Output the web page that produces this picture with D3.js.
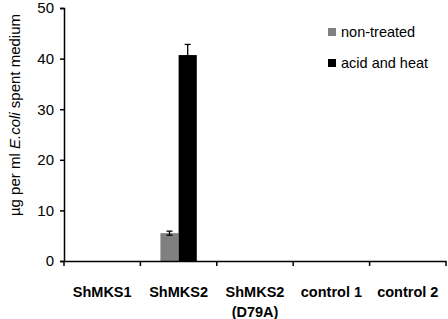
<!DOCTYPE html>
<html><head><meta charset="utf-8">
<script src="https://cdn.jsdelivr.net/npm/d3@7"></script>
<style>body{margin:0;background:#fff;}svg{display:block;}</style>
</head><body>
<svg id="c" width="448" height="319"></svg>
<script>
const categories = ["ShMKS1", "ShMKS2", "ShMKS2\n(D79A)", "control 1", "control 2"];
const nonTreated = [0, 5.5, 0, 0, 0];
const nonTreatedErr = [0, 0.4, 0, 0, 0];
const acidHeat = [0, 40.7, 0, 0, 0];
const acidHeatErr = [0, 2.1, 0, 0, 0];
const seriesNames = ["non-treated", "acid and heat"];
const seriesColors = ["#808080", "#000000"];
const yTicks = [0, 10, 20, 30, 40, 50];

const svg = d3.select("#c");
const font = "'Liberation Sans', Arial, sans-serif";
const x0 = d3.scaleBand().domain(categories).range([64, 446]);
const x1 = d3.scaleBand().domain([0, 1]).range([0, x0.bandwidth()]).paddingInner(0).paddingOuter(1.1);
const y = d3.scaleLinear().domain([0, 50]).range([261, 8]);

// bars
const series = [nonTreated, acidHeat];
const errs = [nonTreatedErr, acidHeatErr];
series.forEach((vals, s) => {
  svg.append("g").selectAll("rect").data(vals).join("rect")
    .attr("x", (d, i) => x0(categories[i]) + x1(s))
    .attr("width", x1.bandwidth())
    .attr("y", d => y(d))
    .attr("height", d => y(0) - y(d))
    .attr("fill", seriesColors[s]);
});
// error bars
series.forEach((vals, s) => {
  const g = svg.append("g").attr("stroke", "#000").attr("stroke-width", 1.3);
  vals.forEach((v, i) => {
    const e = errs[s][i];
    if (!e) return;
    const cx = x0(categories[i]) + x1(s) + x1.bandwidth() / 2;
    g.append("line").attr("x1", cx).attr("x2", cx).attr("y1", y(v + e)).attr("y2", y(v - e));
    g.append("line").attr("x1", cx - 3).attr("x2", cx + 3).attr("y1", y(v + e)).attr("y2", y(v + e));
    g.append("line").attr("x1", cx - 3).attr("x2", cx + 3).attr("y1", y(v - e)).attr("y2", y(v - e));
  });
});

// y axis
const yAxis = svg.append("g").attr("transform", "translate(64,0)")
  .call(d3.axisLeft(y).tickValues(yTicks).tickSize(4).tickPadding(6));
yAxis.select(".domain").attr("stroke-width", 1.5);
yAxis.selectAll(".tick line").attr("stroke-width", 1.5);
yAxis.selectAll("text").attr("font-family", font).attr("font-size", 15).attr("fill", "#000");

// x axis
const xAxis = svg.append("g").attr("transform", "translate(0,261)")
  .call(d3.axisBottom(x0).tickSize(0).tickFormat(""));
xAxis.select(".domain").attr("stroke-width", 1.5);
const bounds = categories.map(c => x0(c)).concat([x0.range()[1]]);
xAxis.selectAll(".bt").data(bounds).join("line").attr("class", "bt")
  .attr("x1", d => d).attr("x2", d => d).attr("y1", 0).attr("y2", 5)
  .attr("stroke", "#000").attr("stroke-width", 1.5);
categories.forEach(c => {
  const t = svg.append("text").attr("font-family", font).attr("font-size", 14.5)
    .attr("font-weight", "bold").attr("text-anchor", "middle").attr("fill", "#000");
  c.split("\n").forEach((line, k) => {
    t.append("tspan").attr("x", x0(c) + x0.bandwidth() / 2).attr("y", 297 + k * 20).text(line);
  });
});

// y title
const yt = svg.append("text").attr("transform", "translate(20,115) rotate(-90)")
  .attr("text-anchor", "middle").attr("font-family", font).attr("font-size", 15).attr("fill", "#000");
yt.append("tspan").text("µg per ml ");
yt.append("tspan").attr("font-style", "italic").text("E.coli");
yt.append("tspan").text(" spent medium");

// legend
seriesNames.forEach((n, i) => {
  const ly = 32 + i * 31;
  svg.append("rect").attr("x", 328).attr("y", ly - 4).attr("width", 8).attr("height", 8).attr("fill", seriesColors[i]);
  svg.append("text").attr("x", 341).attr("y", ly + 5).attr("font-family", font).attr("font-size", 14.5)
    .attr("fill", "#000").text(n);
});
</script>
</body></html>
